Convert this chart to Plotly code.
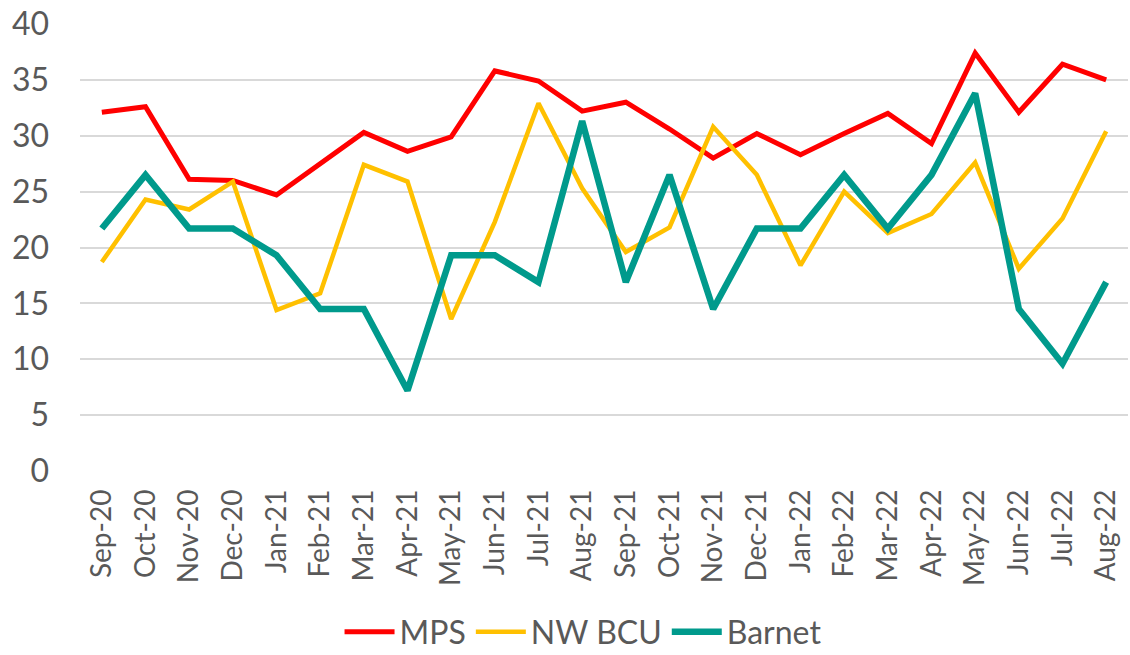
import plotly.graph_objects as go

months = ["Sep-20", "Oct-20", "Nov-20", "Dec-20", "Jan-21", "Feb-21", "Mar-21", "Apr-21",
          "May-21", "Jun-21", "Jul-21", "Aug-21", "Sep-21", "Oct-21", "Nov-21", "Dec-21",
          "Jan-22", "Feb-22", "Mar-22", "Apr-22", "May-22", "Jun-22", "Jul-22", "Aug-22"]

mps = [32.1, 32.6, 26.1, 26.0, 24.7, 27.5, 30.3, 28.6, 29.9, 35.8, 34.9, 32.2,
       33.0, 30.6, 28.0, 30.2, 28.3, 30.2, 32.0, 29.3, 37.4, 32.1, 36.4, 35.0]

nw_bcu = [18.7, 24.3, 23.4, 25.9, 14.4, 15.9, 27.4, 25.9, 13.6, 22.3, 32.9, 25.3,
          19.6, 21.8, 30.8, 26.5, 18.4, 25.0, 21.3, 23.0, 27.6, 18.1, 22.6, 30.4]

barnet = [21.7, 26.5, 21.7, 21.7, 19.3, 14.5, 14.5, 7.2, 19.3, 19.3, 16.9, 31.3,
          16.9, 26.5, 14.5, 21.7, 21.7, 26.5, 21.7, 26.5, 33.8, 14.5, 9.6, 16.9]

series = [
    ("MPS", mps, "#FF0000", 5),
    ("NW BCU", nw_bcu, "#FFC000", 4.5),
    ("Barnet", barnet, "#009A8C", 6.5),
]

fig = go.Figure()
for name, vals, color, w in series:
    fig.add_trace(go.Scatter(x=months, y=vals, mode="lines", name=name,
                             line=dict(color=color, width=w)))

fig.update_layout(
    width=1130, height=655,
    margin=dict(l=80, r=2, t=24, b=184, autoexpand=False),
    paper_bgcolor="white", plot_bgcolor="white",
    font=dict(family="Lato", color="#595959"),
    showlegend=True,
    legend=dict(orientation="h", x=0.48, xanchor="center", y=-0.36, yanchor="middle",
                font=dict(size=32, color="#595959"), traceorder="normal", itemwidth=50),
)
fig.update_xaxes(type="category", range=[-0.5, len(months) - 0.5], tickangle=-90,
                 tickfont=dict(size=28), showgrid=False, showline=False, ticks="",
                 ticklabelstandoff=12, automargin=False)
fig.update_yaxes(range=[0, 40], dtick=5, tickfont=dict(size=32), showgrid=True,
                 gridcolor="#D9D9D9", gridwidth=1.5, zeroline=False, showline=False,
                 ticks="", ticklabelstandoff=30, automargin=False)

fig.write_html("out.html", config={"displayModeBar": False},
               post_script="document.body.style.margin='0';document.body.style.overflow='hidden';")
